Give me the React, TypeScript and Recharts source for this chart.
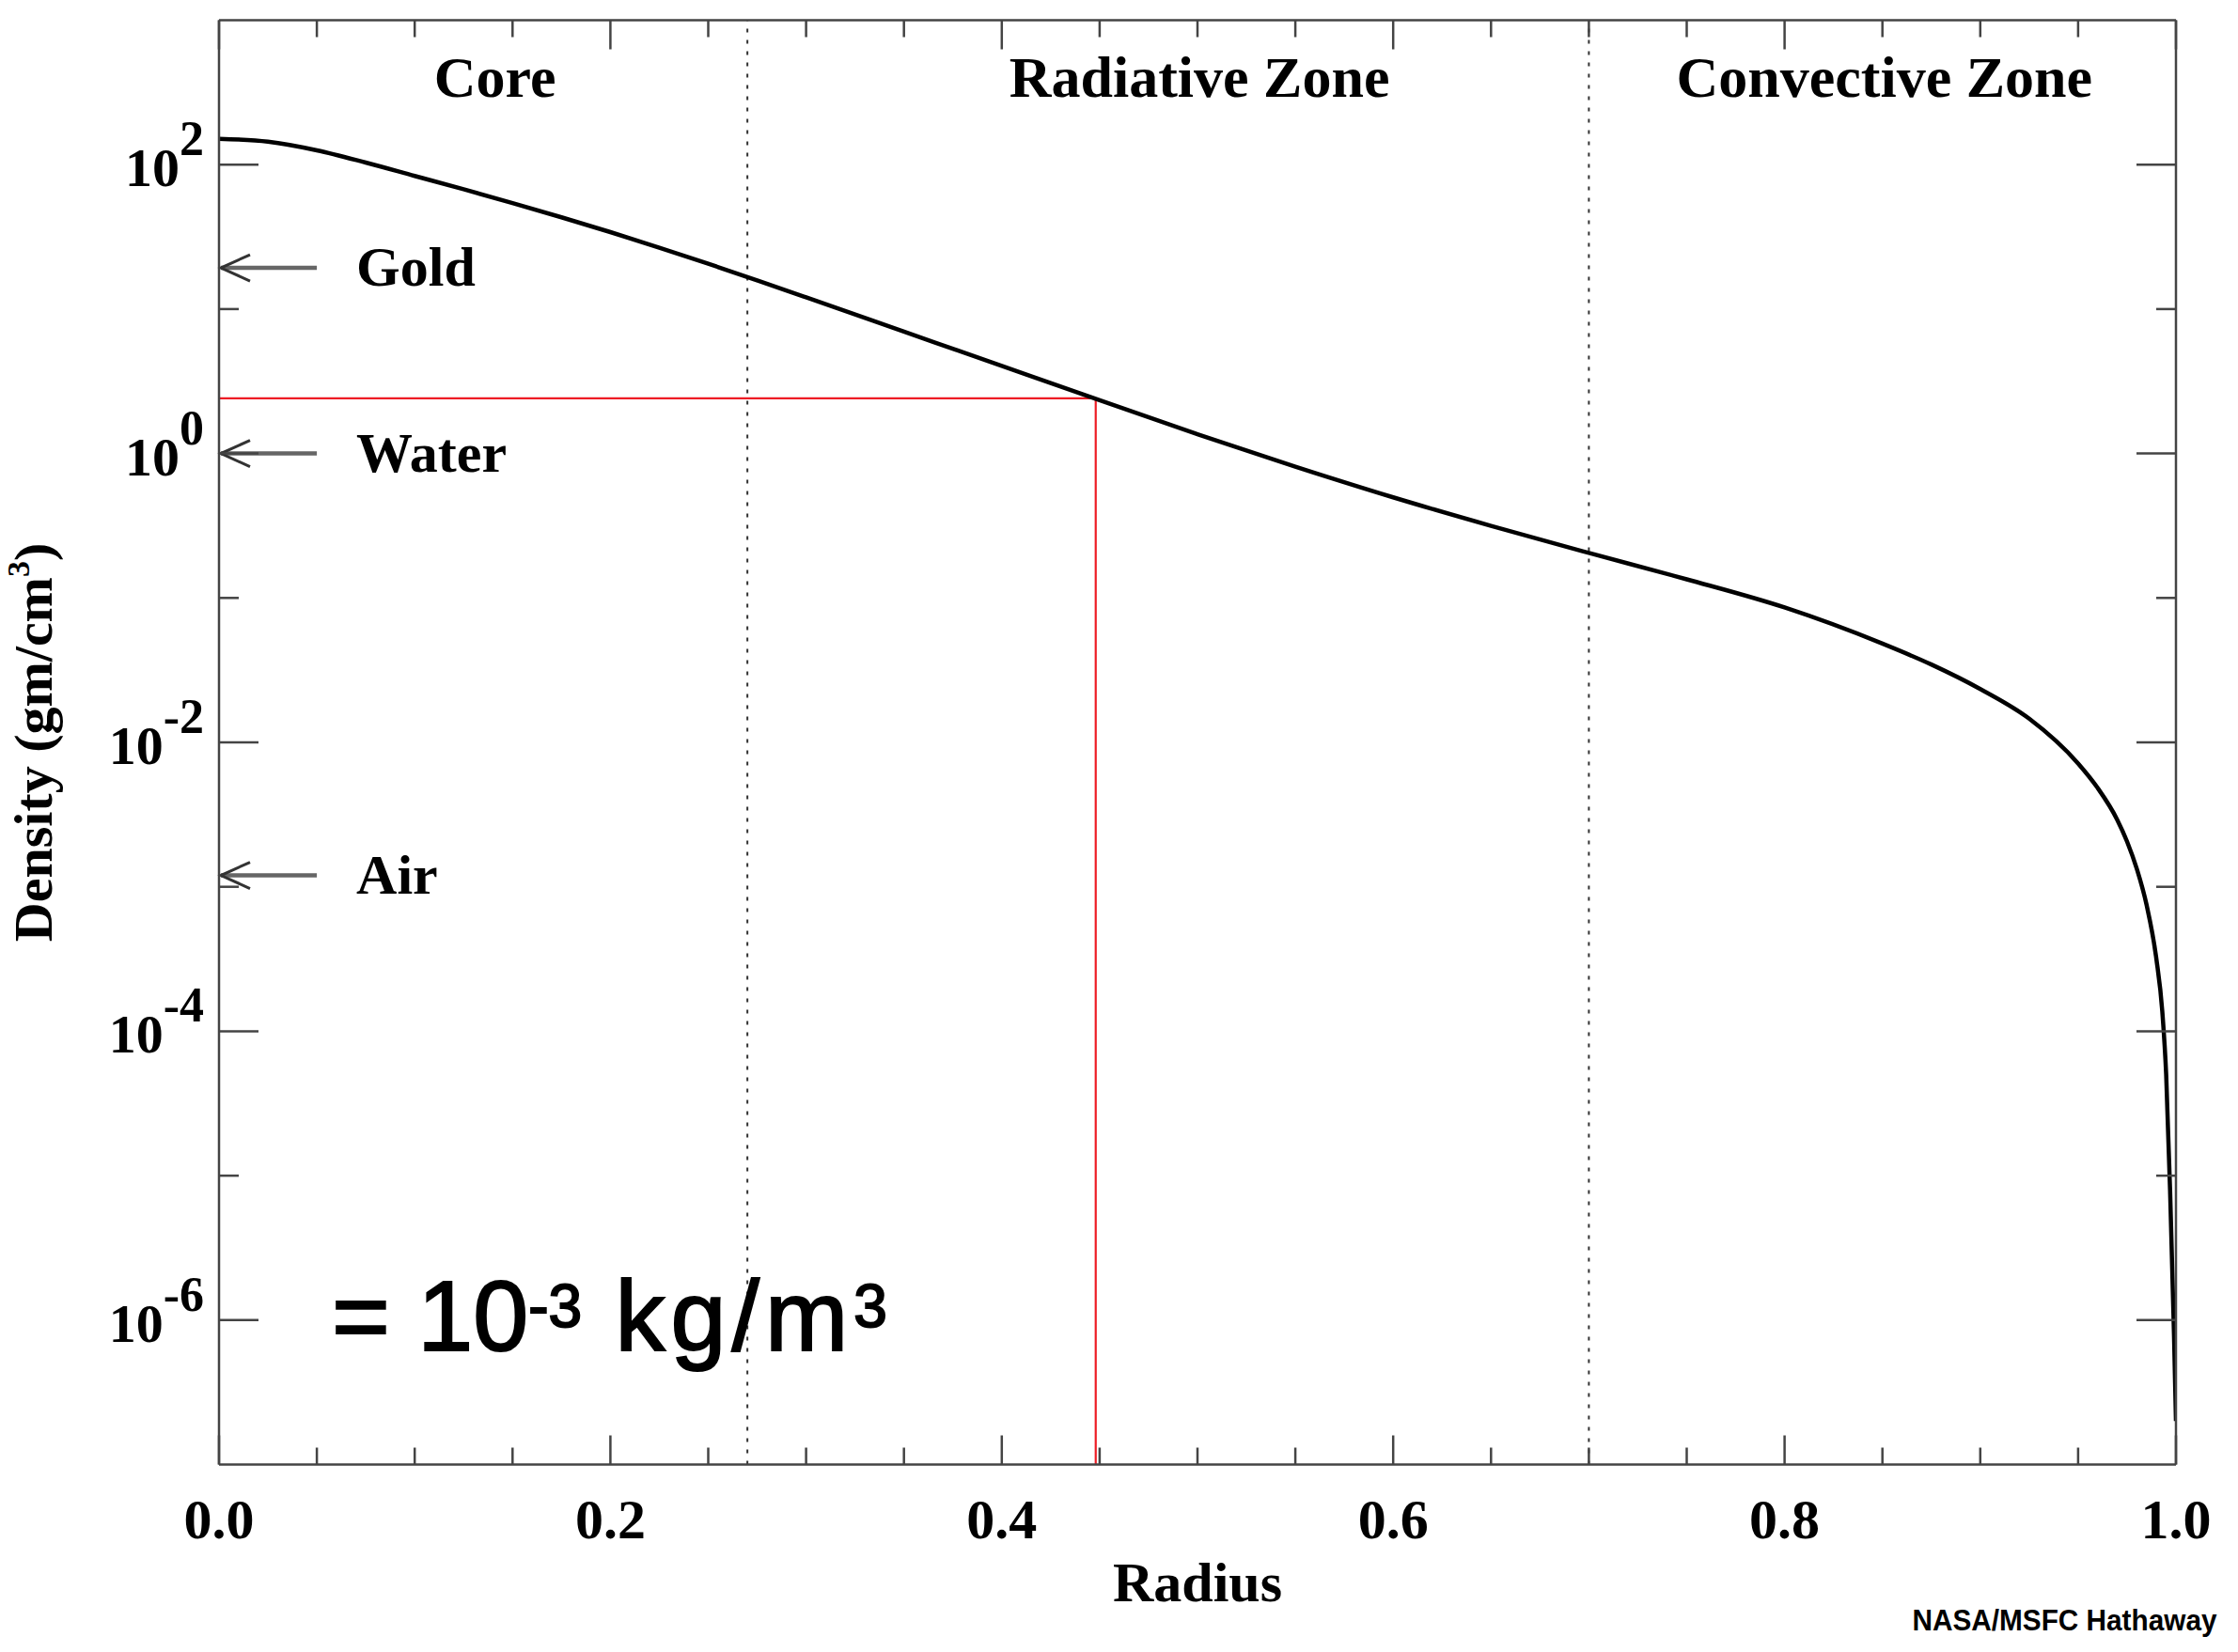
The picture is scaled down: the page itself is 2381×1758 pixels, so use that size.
import type { JSX } from 'react';
import { Label, Line, LineChart, ReferenceDot, ReferenceLine, XAxis, YAxis } from 'recharts';

// Solar density profile (radius in R_sun, density in g/cm^3)
const radius = [
  0, 0.025, 0.05, 0.075, 0.1, 0.125, 0.15, 0.175, 0.2, 0.225, 0.25, 0.275, 0.3, 0.35, 0.4,
  0.45, 0.5, 0.55, 0.6, 0.65, 0.7, 0.75, 0.8, 0.85, 0.875, 0.9, 0.925, 0.95, 0.96, 0.97,
  0.975, 0.98, 0.985, 0.99, 0.993, 0.995, 0.997, 0.999, 1,
];
const density = [
  151, 144.2, 125.6, 103.3, 83.5, 67.5, 54.2, 43.2, 34.1, 26.6, 20.6, 15.8, 12.06, 6.98, 4.04,
  2.34, 1.36, 0.811, 0.497, 0.3155, 0.205, 0.1346, 0.0859, 0.0483, 0.0346, 0.0234, 0.01459,
  0.00714, 0.00483, 0.00291, 0.00206, 0.00133, 0.000748, 0.000316, 0.000138, 0.00005,
  0.0000079, 0.00000079, 0.0000002,
];

const radiusTicks = [
  0, 0.05, 0.1, 0.15, 0.2, 0.25, 0.3, 0.35, 0.4, 0.45, 0.5, 0.55, 0.6, 0.65, 0.7, 0.75, 0.8,
  0.85, 0.9, 0.95, 1,
];
const densityTicks = [1e-6, 1e-5, 1e-4, 1e-3, 1e-2, 1e-1, 1, 10, 100];

// Zone boundaries and labels
const zoneBoundaries = [0.27, 0.7];
const zoneNames = ['Core', 'Radiative Zone', 'Convective Zone'];
const zoneCenters = [0.141, 0.501, 0.851];
const zoneLabelDensity = 295;

// Reference materials pointed at from the axis
const materialNames = ['Gold', 'Water', 'Air'];
const materialDensities = [19.3, 1, 0.0012];
const arrowLength = 0.05;

// Red read-off marker
const markerRadius = 0.448;
const markerDensity = 2.41;

// Position of the unit note
const noteRadius = 0.0576;
const noteDensity = 6.2e-7;

const chartData = radius.map((r, i) => ({ radius: r, density: density[i] }));

const SERIF = "'Liberation Serif', 'Times New Roman', serif";
const SANS = "'Liberation Sans', Arial, sans-serif";
const AXIS_COLOR = '#444';
const ARROW_COLOR = '#666';
const RED = '#ee1c25';

interface TickProps {
  x?: number;
  y?: number;
  payload?: { value: number };
}

function isMajorRadius(v: number): boolean {
  return Math.round(v * 100) % 20 === 0;
}

function decade(v: number): number {
  return Math.round(Math.log10(v));
}

function BottomTick({ x = 0, y = 0, payload }: TickProps): JSX.Element {
  const v = payload?.value ?? 0;
  const major = isMajorRadius(v);
  return (
    <g>
      <line x1={x} x2={x} y1={y} y2={y - (major ? 31 : 18)} stroke={AXIS_COLOR} strokeWidth={2.5} />
      {major && (
        <text x={x} y={y + 78} textAnchor="middle" fontFamily={SERIF} fontWeight="bold" fontSize={60} fill="#000">
          {v.toFixed(1)}
        </text>
      )}
    </g>
  );
}

function TopTick({ x = 0, y = 0, payload }: TickProps): JSX.Element {
  const major = isMajorRadius(payload?.value ?? 0);
  return <line x1={x} x2={x} y1={y} y2={y + (major ? 31 : 18)} stroke={AXIS_COLOR} strokeWidth={2.5} />;
}

function LeftTick({ x = 0, y = 0, payload }: TickProps): JSX.Element {
  const exp = decade(payload?.value ?? 1);
  const major = exp % 2 === 0;
  return (
    <g>
      <line x1={x} x2={x + (major ? 42 : 21)} y1={y} y2={y} stroke={AXIS_COLOR} strokeWidth={2.5} />
      {major && (
        <text x={x - 16} y={y + 23} textAnchor="end" fontFamily={SERIF} fontWeight="bold" fontSize={58} fill="#000">
          10
          <tspan dy={-33} fontSize={52}>
            {`${exp}`}
          </tspan>
        </text>
      )}
    </g>
  );
}

function RightTick({ x = 0, y = 0, payload }: TickProps): JSX.Element {
  const major = decade(payload?.value ?? 1) % 2 === 0;
  return <line x1={x} x2={x - (major ? 42 : 21)} y1={y} y2={y} stroke={AXIS_COLOR} strokeWidth={2.5} />;
}

interface ViewBoxProps {
  viewBox?: { x: number; y: number; width: number; height: number };
}

function DensityTitle({ viewBox }: ViewBoxProps): JSX.Element {
  const vb = viewBox ?? { x: 33, y: 21.5, width: 200, height: 1537 };
  const cx = vb.x + 22;
  const cy = vb.y + vb.height / 2;
  return (
    <text
      transform={`translate(${cx}, ${cy}) rotate(-90)`}
      textAnchor="middle"
      fontFamily={SERIF}
      fontWeight="bold"
      fontSize={58}
      fill="#000"
    >
      Density (gm/cm
      <tspan dy={-24} fontSize={34}>
        3
      </tspan>
      <tspan dy={24}>)</tspan>
    </text>
  );
}

function RadiusTitle({ viewBox }: ViewBoxProps): JSX.Element {
  const vb = viewBox ?? { x: 233, y: 1558.5, width: 2082, height: 160 };
  return (
    <text x={vb.x + vb.width / 2} y={vb.y + 145} textAnchor="middle" fontFamily={SERIF} fontWeight="bold" fontSize={60} fill="#000">
      Radius
    </text>
  );
}

function materialArrow(name: string) {
  return function MaterialArrow(props: { x1?: number; y1?: number; x2?: number; y2?: number }): JSX.Element {
    const x1 = Number(props.x1 ?? 0);
    const y1 = Number(props.y1 ?? 0);
    const x2 = Number(props.x2 ?? 0);
    return (
      <g>
        <line x1={x1 + 2} y1={y1} x2={x2} y2={y1} stroke={ARROW_COLOR} strokeWidth={4.5} />
        <polyline
          points={`${x1 + 33},${y1 - 14} ${x1 + 2},${y1} ${x1 + 33},${y1 + 14}`}
          fill="none"
          stroke="#333"
          strokeWidth={3}
        />
        <text x={x2 + 42} y={y1 + 19} fontFamily={SERIF} fontWeight="bold" fontSize={60} fill="#000">
          {name}
        </text>
      </g>
    );
  };
}

function zoneLabel(name: string) {
  return function ZoneLabel(props: { cx?: number; cy?: number }): JSX.Element {
    return (
      <text x={props.cx} y={props.cy} textAnchor="middle" fontFamily={SERIF} fontWeight="bold" fontSize={62} fill="#000">
        {name}
      </text>
    );
  };
}

function UnitNote(props: { cx?: number; cy?: number }): JSX.Element {
  return (
    <text
      x={props.cx}
      y={props.cy}
      fontFamily={SANS}
      fontSize={106}
      fill="#000"
      stroke="#000"
      strokeWidth={2}
    >
      = 10
      <tspan dy={-25} fontSize={64}>
        -3
      </tspan>
      <tspan dy={25} letterSpacing={6}>
        {' kg/m'}
      </tspan>
      <tspan dy={-25} fontSize={64}>
        3
      </tspan>
    </text>
  );
}

export default function App(): JSX.Element {
  return (
    <div style={{ position: 'relative', width: 2381, height: 1758, background: '#fff' }}>
      <style>{'body { margin: 0; }'}</style>
      <LineChart
        width={2381}
        height={1758}
        data={chartData}
        margin={{ top: 11.5, right: 56, bottom: 39.5, left: 33 }}
      >
        <XAxis
          dataKey="radius"
          type="number"
          domain={[0, 1]}
          ticks={radiusTicks}
          interval={0}
          allowDataOverflow
          height={160}
          tickSize={0}
          tickMargin={0}
          tickLine={false}
          tick={BottomTick}
          axisLine={{ stroke: AXIS_COLOR, strokeWidth: 2.5 }}
        >
          <Label content={RadiusTitle} />
        </XAxis>
        <XAxis
          xAxisId="top"
          orientation="top"
          dataKey="radius"
          type="number"
          domain={[0, 1]}
          ticks={radiusTicks}
          interval={0}
          allowDataOverflow
          height={10}
          tickSize={0}
          tickMargin={0}
          tickLine={false}
          tick={TopTick}
          axisLine={{ stroke: AXIS_COLOR, strokeWidth: 2.5 }}
        />
        <YAxis
          type="number"
          scale="log"
          domain={[1e-7, 1e3]}
          ticks={densityTicks}
          interval={0}
          allowDataOverflow
          width={200}
          tickSize={0}
          tickMargin={0}
          tickLine={false}
          tick={LeftTick}
          axisLine={{ stroke: AXIS_COLOR, strokeWidth: 2.5 }}
        >
          <Label content={DensityTitle} />
        </YAxis>
        <YAxis
          yAxisId="right"
          orientation="right"
          type="number"
          scale="log"
          domain={[1e-7, 1e3]}
          ticks={densityTicks}
          interval={0}
          allowDataOverflow
          width={10}
          tickSize={0}
          tickMargin={0}
          tickLine={false}
          tick={RightTick}
          axisLine={{ stroke: AXIS_COLOR, strokeWidth: 2.5 }}
        />

        {zoneBoundaries.map((b) => (
          <ReferenceLine key={`zone-${b}`} x={b} stroke="#333" strokeWidth={2} strokeDasharray="4 8" />
        ))}

        <ReferenceLine
          segment={[
            { x: 0, y: markerDensity },
            { x: markerRadius, y: markerDensity },
          ]}
          stroke={RED}
          strokeWidth={2.2}
        />
        <ReferenceLine
          segment={[
            { x: markerRadius, y: 1e-7 },
            { x: markerRadius, y: markerDensity },
          ]}
          stroke={RED}
          strokeWidth={2.2}
        />

        <Line
          dataKey="density"
          type="monotone"
          stroke="#000"
          strokeWidth={4.5}
          dot={false}
          activeDot={false}
          isAnimationActive={false}
        />

        {materialNames.map((name, i) => (
          <ReferenceLine
            key={name}
            segment={[
              { x: 0, y: materialDensities[i] },
              { x: arrowLength, y: materialDensities[i] },
            ]}
            shape={materialArrow(name)}
          />
        ))}

        {zoneNames.map((name, i) => (
          <ReferenceDot key={name} x={zoneCenters[i]} y={zoneLabelDensity} shape={zoneLabel(name)} />
        ))}

        <ReferenceDot x={noteRadius} y={noteDensity} shape={UnitNote} />
      </LineChart>
      <div
        style={{
          position: 'absolute',
          right: 23,
          top: 1708,
          fontFamily: "'Liberation Sans Narrow', 'Liberation Sans', Arial, sans-serif",
          fontWeight: 'bold',
          fontSize: 32,
          lineHeight: 1,
          color: '#000',
          whiteSpace: 'nowrap',
          transform: 'scaleX(0.93)',
          transformOrigin: 'right center',
        }}
      >
        NASA/MSFC Hathaway
      </div>
    </div>
  );
}
